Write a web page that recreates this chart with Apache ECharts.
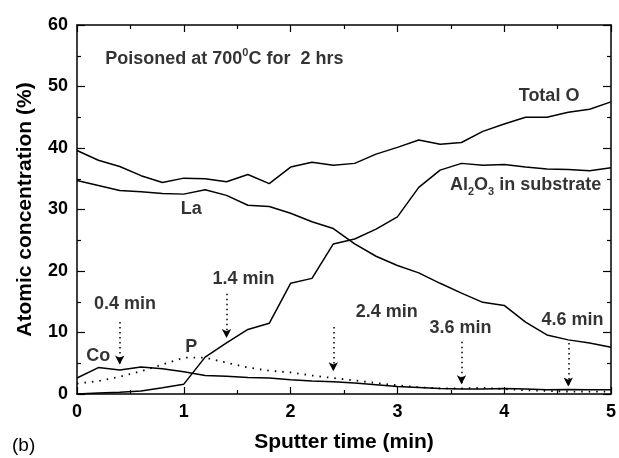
<!DOCTYPE html>
<html>
<head>
<meta charset="utf-8">
<script src="https://cdn.jsdelivr.net/npm/echarts@6/dist/echarts.min.js"></script>
<style>
  html, body { margin: 0; padding: 0; background: #fff; overflow: hidden; }
  #chart { width: 619px; height: 458px; }
</style>
</head>
<body>
<div id="chart"></div>
<script>
// sputter time (min)
const times = [0, 0.2, 0.4, 0.6, 0.8, 1.0, 1.2, 1.4, 1.6, 1.8, 2.0, 2.2, 2.4,
               2.6, 2.8, 3.0, 3.2, 3.4, 3.6, 3.8, 4.0, 4.2, 4.4, 4.6, 4.8, 5.0];

// atomic concentration (%)
const totalO = [39.6, 38.0, 37.0, 35.5, 34.4, 35.1, 35.0, 34.5, 35.7, 34.2, 36.9, 37.7, 37.2,
                37.5, 39.0, 40.1, 41.3, 40.6, 40.9, 42.7, 43.9, 45.0, 45.0, 45.8, 46.3, 47.5];
const la     = [34.7, 33.9, 33.1, 32.9, 32.6, 32.5, 33.2, 32.3, 30.7, 30.5, 29.4, 28.0, 26.9,
                24.4, 22.4, 20.9, 19.7, 18.0, 16.4, 14.9, 14.4, 11.7, 9.6, 8.8, 8.3, 7.6];
const al2o3  = [0.0, 0.15, 0.3, 0.5, 1.0, 1.6, 6.0, 8.3, 10.5, 11.5, 18.0, 18.8, 24.4,
                25.2, 26.8, 28.8, 33.6, 36.4, 37.5, 37.2, 37.3, 36.9, 36.6, 36.5, 36.3, 36.8];
const co     = [2.6, 4.3, 3.9, 4.4, 4.1, 3.6, 3.0, 2.9, 2.7, 2.6, 2.3, 2.1, 2.0,
                1.8, 1.5, 1.2, 1.07, 0.9, 0.8, 0.8, 0.9, 0.8, 0.7, 0.75, 0.7, 0.7];
const p      = [1.7, 2.1, 2.8, 3.7, 4.8, 5.9, 5.9, 5.1, 4.3, 3.8, 3.5, 3.0, 2.6,
                2.2, 1.8, 1.4, 1.1, 0.9, 0.9, 1.0, 0.8, 0.6, 0.5, 0.4, 0.4, 0.4];

// arrows marking the sputter times: x, start y, tip y
const arrowX     = [0.4, 1.4, 2.4, 3.6, 4.6];
const arrowFrom  = [11.7, 16.3, 10.9, 8.5, 8.3];
const arrowTo    = [4.8, 9.1, 3.7, 1.6, 1.2];

// text annotations in data coordinates
const noteText = ['0.4 min', '1.4 min', '2.4 min', '3.6 min', '4.6 min', 'Co', 'P', 'La', 'Total O',
                  'Al{sub|2}O{sub|3} in substrate', 'Poisoned at 700{sup|0}C for  2 hrs'];
const noteX = [0.45, 1.56, 2.9, 3.59, 4.64, 0.2, 1.07, 1.07, 4.42, 4.2, 1.38];
const noteY = [14.6, 18.7, 13.4, 10.7, 12.0, 6.1, 7.7, 30.1, 48.5, 33.9, 54.5];

const FONT = 'Liberation Sans';
const pair = (ys) => times.map((t, i) => [t, ys[i]]);

function curve(name, ys, dotted) {
    return {
        name: name,
        type: 'line',
        data: pair(ys),
        symbol: 'none',
        silent: true,
        lineStyle: {
            color: '#000',
            width: dotted ? 1.8 : 1.5,
            type: dotted ? [1.5, 6] : 'solid'
        },
        z: 3
    };
}

let myChart = echarts.init(document.getElementById('chart'), null, { renderer: 'canvas' });

let option = {
    animation: false,
    backgroundColor: '#fff',
    textStyle: { fontFamily: FONT },
    grid: { left: 77, right: 5, top: 25, bottom: 58 },
    xAxis: [
        {
            type: 'value', min: 0, max: 5, interval: 1,
            name: 'Sputter time (min)', nameLocation: 'middle', nameGap: 38,
            nameTextStyle: { fontSize: 21, fontWeight: 'bold', color: '#000', fontFamily: FONT },
            axisLine: { show: true, onZero: false, lineStyle: { color: '#000', width: 1.5 } },
            axisTick: { show: true, inside: true, length: 7, lineStyle: { color: '#000', width: 1.2 } },
            minorTick: { show: true, splitNumber: 2, length: 4, lineStyle: { color: '#000', width: 1.2 } },
            axisLabel: { fontSize: 18, fontWeight: 'bold', color: '#000', margin: 9, fontFamily: FONT },
            splitLine: { show: false }
        },
        {
            type: 'value', min: 0, max: 5, interval: 1, position: 'top',
            axisLine: { show: true, onZero: false, lineStyle: { color: '#000', width: 1.5 } },
            axisTick: { show: true, inside: true, length: 7, lineStyle: { color: '#000', width: 1.2 } },
            minorTick: { show: true, splitNumber: 2, length: 4, lineStyle: { color: '#000', width: 1.2 } },
            axisLabel: { show: false },
            splitLine: { show: false }
        }
    ],
    yAxis: [
        {
            type: 'value', min: 0, max: 60, interval: 10,
            name: 'Atomic concentration (%)', nameLocation: 'middle', nameGap: 41,
            nameTextStyle: { fontSize: 21, fontWeight: 'bold', color: '#000', fontFamily: FONT },
            axisLine: { show: true, onZero: false, lineStyle: { color: '#000', width: 1.5 } },
            axisTick: { show: true, inside: true, length: 8, lineStyle: { color: '#000', width: 1.2 } },
            minorTick: { show: true, splitNumber: 2, length: 4, lineStyle: { color: '#000', width: 1.2 } },
            axisLabel: { fontSize: 18, fontWeight: 'bold', color: '#000', margin: 9, fontFamily: FONT },
            splitLine: { show: false }
        },
        {
            type: 'value', min: 0, max: 60, interval: 10, position: 'right',
            axisLine: { show: true, onZero: false, lineStyle: { color: '#000', width: 1.5 } },
            axisTick: { show: true, inside: true, length: 8, lineStyle: { color: '#000', width: 1.2 } },
            minorTick: { show: true, splitNumber: 2, length: 4, lineStyle: { color: '#000', width: 1.2 } },
            axisLabel: { show: false },
            splitLine: { show: false }
        }
    ],
    series: [
        curve('Total O', totalO, false),
        curve('La', la, false),
        curve('Al2O3', al2o3, false),
        curve('Co', co, false),
        curve('P', p, true),
        {
            name: 'arrows',
            type: 'line',
            data: [],
            markLine: {
                silent: true,
                symbol: ['none', 'arrow'],
                symbolSize: [7, 9],
                label: { show: false },
                lineStyle: { color: '#000', width: 1.5, type: [1.5, 3.5] },
                data: arrowX.map((x, i) => [
                    { coord: [x, arrowFrom[i]] },
                    { coord: [x, arrowTo[i]] }
                ])
            }
        },
        {
            name: 'notes',
            type: 'scatter',
            symbolSize: 0,
            silent: true,
            data: noteText.map((t, i) => ({
                value: [noteX[i], noteY[i]],
                label: { formatter: t }
            })),
            label: {
                show: true,
                position: 'inside',
                color: '#000',
                fontSize: 18,
                fontWeight: 'bold',
                fontFamily: FONT,
                rich: {
                    sub: { fontSize: 11, fontWeight: 'bold', color: '#000', fontFamily: FONT, padding: [12, 0, 0, 0] },
                    sup: { fontSize: 11, fontWeight: 'bold', color: '#000', fontFamily: FONT, padding: [0, 0, 12, 0] }
                }
            },
            z: 5
        }
    ],
    graphic: [
        {
            type: 'text', left: 12, top: 436,
            style: { text: '(b)', font: '19px "Liberation Sans"', fill: '#000' }
        }
    ]
};

if (option && typeof option === 'object') {
    myChart.setOption(option);
}
</script>
</body>
</html>
